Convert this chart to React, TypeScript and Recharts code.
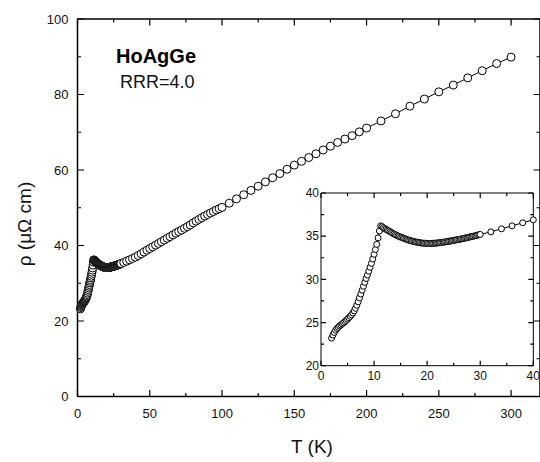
import React from "react";
import { ComposedChart, Line, XAxis, YAxis } from "recharts";

const FONT = "Arial, 'Liberation Sans', Helvetica, sans-serif";

// resistivity of HoAgGe, T in K, rho in µΩ cm
const T_LOW = [
  2, 2.25, 2.5, 2.75, 3, 3.25, 3.5, 3.75, 4, 4.25, 4.5, 4.75, 5, 5.25, 5.5, 5.75, 6, 6.25, 6.5,
  6.75, 7, 7.25, 7.5, 7.75, 8, 8.25, 8.5, 8.75, 9, 9.25, 9.5, 9.75, 10, 10.25, 10.5, 10.75, 11, 11.25,
];
const RHO_LOW = [
  23.2, 23.55, 23.85, 24.1, 24.3, 24.45, 24.6, 24.72, 24.85, 24.97, 25.1, 25.25, 25.4, 25.55, 25.72,
  25.9, 26.1, 26.35, 26.65, 27.0, 27.4, 27.85, 28.3, 28.75, 29.2, 29.65, 30.1, 30.5, 30.95, 31.4,
  31.85, 32.35, 32.9, 33.45, 34.05, 34.8, 35.6, 36.2,
];

const T_PEAK = [
  11.5, 11.75, 12, 12.25, 12.5, 12.75, 13, 13.25, 13.5, 13.75, 14, 14.25, 14.5, 14.75,
  15, 15.25, 15.5, 15.75, 16, 16.25, 16.5, 16.75, 17, 17.25, 17.5, 17.75, 18, 18.25, 18.5, 18.75,
  19, 19.25, 19.5, 19.75, 20, 20.25, 20.5, 20.75, 21, 21.25, 21.5, 21.75, 22, 22.25, 22.5, 22.75,
  23, 23.25, 23.5, 23.75, 24, 24.25, 24.5, 24.75, 25, 25.25, 25.5, 25.75, 26, 26.25, 26.5, 26.75,
  27, 27.25, 27.5, 27.75, 28, 28.25, 28.5, 28.75, 29, 29.25, 29.5, 29.75, 30,
];
const RHO_PEAK = [
  36.1, 35.98, 35.88, 35.79, 35.7, 35.61, 35.52, 35.43, 35.34, 35.26, 35.18, 35.1, 35.03, 34.96,
  34.89, 34.83, 34.77, 34.71, 34.65, 34.6, 34.55, 34.5, 34.46, 34.42, 34.38, 34.34, 34.31, 34.28,
  34.25, 34.23, 34.21, 34.19, 34.18, 34.17, 34.16, 34.16, 34.16, 34.16, 34.17, 34.18, 34.19, 34.2,
  34.22, 34.24, 34.26, 34.28, 34.3, 34.32, 34.35, 34.37, 34.4, 34.42, 34.45, 34.48, 34.51, 34.54,
  34.57, 34.6, 34.63, 34.66, 34.69, 34.72, 34.76, 34.79, 34.82, 34.86, 34.9, 34.93, 34.97, 35.0,
  35.04, 35.08, 35.12, 35.16, 35.2,
];

const T_MID = [
  32, 34, 36, 38, 40, 42, 44, 46, 48, 50, 52, 54, 56, 58, 60, 62, 64, 66, 68, 70, 72, 74, 76, 78,
  80, 82, 84, 86, 88, 90, 92, 94, 96, 98,
];
const RHO_MID = [
  35.5, 35.85, 36.2, 36.55, 36.9, 37.35, 37.8, 38.25, 38.75, 39.2, 39.65, 40.1, 40.55, 41.0, 41.45,
  41.9, 42.35, 42.8, 43.25, 43.7, 44.1, 44.55, 45.0, 45.45, 46.0, 46.45, 46.9, 47.35, 47.8, 48.2,
  48.6, 49.0, 49.4, 49.75,
];

const T_HIGH = [
  100, 105, 110, 115, 120, 125, 130, 135, 140, 145, 150, 155, 160, 165, 170, 175, 180, 185, 190,
  195, 200, 210, 220, 230, 240, 250, 260, 270, 280, 290, 300,
];
const RHO_HIGH = [
  50.1, 51.2, 52.35, 53.45, 54.6, 55.7, 56.85, 57.95, 59.05, 60.2, 61.3, 62.3, 63.3, 64.3, 65.3,
  66.3, 67.3, 68.2, 69.1, 70.1, 71.1, 73.0, 74.9, 76.9, 78.8, 80.7, 82.5, 84.4, 86.3, 88.2, 89.9,
];

const MAIN_X_MAJOR = [0, 50, 100, 150, 200, 250, 300];
const MAIN_X_MINOR = [25, 75, 125, 175, 225, 275];
const MAIN_Y_MAJOR = [0, 20, 40, 60, 80, 100];
const MAIN_Y_MINOR = [10, 30, 50, 70, 90];
const INSET_X_MAJOR = [0, 10, 20, 30, 40];
const INSET_X_MINOR = [5, 15, 25, 35];
const INSET_Y_MAJOR = [20, 25, 30, 35, 40];
const INSET_Y_MINOR = [22.5, 27.5, 32.5, 37.5];

type Pt = { t: number; v: number | null };
type Row = { t: number; rho?: number; frame?: number | null; tick?: number | null };

const zip = (ts: number[], rs: number[]): Row[] => ts.map((t, i) => ({ t, rho: rs[i] }));
const POINTS = [
  ...zip(T_LOW, RHO_LOW),
  ...zip(T_PEAK, RHO_PEAK),
  ...zip(T_MID, RHO_MID),
  ...zip(T_HIGH, RHO_HIGH),
];
const INSET_POINTS = POINTS.filter((p) => p.t <= 40);

// box round the plot, in data units
function frameOf(xd: number[], yd: number[]): Pt[] {
  return [
    { t: xd[0], v: yd[0] },
    { t: xd[1], v: yd[0] },
    { t: xd[1], v: yd[1] },
    { t: xd[0], v: yd[1] },
    { t: xd[0], v: yd[0] },
  ];
}

// inward tick marks on all four sides; a null point breaks the line between them
function ticksOf(xMaj: number[], xMin: number[], yMaj: number[], yMin: number[], xd: number[], yd: number[],
  ux: number, uy: number, majPx: number, minPx: number): Pt[] {
  const out: Pt[] = [];
  const seg = (a: Pt, b: Pt) => out.push(a, b, { t: b.t, v: null });
  for (const x of [...xMaj, ...xMin]) {
    const l = xMaj.includes(x) ? majPx : minPx;
    seg({ t: x, v: yd[0] }, { t: x, v: yd[0] + l * uy });
    seg({ t: x, v: yd[1] }, { t: x, v: yd[1] - l * uy });
  }
  for (const y of [...yMaj, ...yMin]) {
    const l = yMaj.includes(y) ? majPx : minPx;
    seg({ t: xd[0], v: y }, { t: xd[0] + l * ux, v: y });
    seg({ t: xd[1], v: y }, { t: xd[1] - l * ux, v: y });
  }
  return out;
}

// tick labels only; the axis hands us the anchor 1px off the axis line (tickSize=1, tickMargin=0)
function makeLabel(side: "bottom" | "left", majors: number[], fontSize: number, off: number) {
  return (p: any) => {
    const v = p.payload.value;
    if (!majors.includes(v)) return <g />;
    if (side === "bottom") {
      return (
        <text x={p.x} y={p.y - 1 + off} textAnchor="middle" fontSize={fontSize} fontFamily={FONT} fill="#111">
          {v}
        </text>
      );
    }
    return (
      <text x={p.x + 1 - off} y={p.y} dy="0.36em" textAnchor="end" fontSize={fontSize} fontFamily={FONT} fill="#111">
        {v}
      </text>
    );
  };
}

const XTitle = () => (
  <text x={312} y={453} textAnchor="middle" fontSize={19} fontFamily={FONT} fill="#111">
    T (K)
  </text>
);

const YTitle = () => (
  <text x={31} y={224} transform="rotate(-90 31 224)" textAnchor="middle" fontSize={19} fontFamily={FONT} fill="#111">
    ρ (μΩ cm)
  </text>
);

interface FrameProps {
  data: Row[];
  width: number;
  height: number;
  margin: { top: number; right: number; bottom: number; left: number };
  xDomain: [number, number];
  yDomain: [number, number];
  xMajor: number[];
  xMinor: number[];
  yMajor: number[];
  yMinor: number[];
  majorLen: number;
  minorLen: number;
  font: number;
  xOff: number;
  yOff: number;
  xHeight: number;
  yWidth: number;
  frameWidth: number;
  dotR: number;
  titles: boolean;
}

function Framed(p: FrameProps) {
  const plotW = p.width - p.margin.left - p.margin.right - p.yWidth;
  const plotH = p.height - p.margin.top - p.margin.bottom - p.xHeight;
  const ux = (p.xDomain[1] - p.xDomain[0]) / plotW;
  const uy = (p.yDomain[1] - p.yDomain[0]) / plotH;
  // one table for the chart: the measured points, then the frame and tick rows
  const rows: Row[] = [
    ...p.data,
    ...frameOf(p.xDomain, p.yDomain).map((q) => ({ t: q.t, frame: q.v })),
    ...ticksOf(p.xMajor, p.xMinor, p.yMajor, p.yMinor, p.xDomain, p.yDomain, ux, uy, p.majorLen, p.minorLen).map(
      (q) => ({ t: q.t, tick: q.v })
    ),
  ];
  return (
    <ComposedChart width={p.width} height={p.height} data={rows} margin={p.margin}>
      <XAxis
        dataKey="t"
        type="number"
        domain={p.xDomain}
        ticks={[...p.xMajor, ...p.xMinor]}
        interval={0}
        height={p.xHeight}
        tickSize={1}
        tickMargin={0}
        tickLine={false}
        axisLine={false}
        tick={makeLabel("bottom", p.xMajor, p.font, p.xOff)}
        label={p.titles ? <XTitle /> : undefined}
      />
      <YAxis
        type="number"
        domain={p.yDomain}
        ticks={[...p.yMajor, ...p.yMinor]}
        interval={0}
        width={p.yWidth}
        tickSize={1}
        tickMargin={0}
        tickLine={false}
        axisLine={false}
        tick={makeLabel("left", p.yMajor, p.font, p.yOff)}
        label={p.titles ? <YTitle /> : undefined}
      />
      <Line type="linear" dataKey="tick" stroke="#000" strokeWidth={1.2} dot={false} isAnimationActive={false} legendType="none" />
      <Line type="linear" dataKey="frame" stroke="#000" strokeWidth={p.frameWidth} dot={false} isAnimationActive={false} legendType="none" />
      <Line
        type="linear"
        dataKey="rho"
        stroke="#000"
        strokeWidth={1}
        dot={{ r: p.dotR, fill: "#fff", stroke: "#000", strokeWidth: 1 }}
        isAnimationActive={false}
      />
    </ComposedChart>
  );
}

export default function App() {
  return (
    <div style={{ position: "absolute", left: 0, top: 0, width: 540, height: 462, overflow: "hidden", background: "#fff" }}>
      <div style={{ position: "absolute", left: 290, top: 180, zIndex: 2 }}>
        <Framed
          data={INSET_POINTS}
          width={250}
          height={210}
          margin={{ top: 13, right: 6.7, bottom: 0, left: 0 }}
          xDomain={[0, 40]}
          yDomain={[20, 40]}
          xMajor={INSET_X_MAJOR}
          xMinor={INSET_X_MINOR}
          yMajor={INSET_Y_MAJOR}
          yMinor={INSET_Y_MINOR}
          majorLen={5}
          minorLen={3}
          font={12}
          xOff={14.3}
          yOff={2}
          xHeight={24.3}
          yWidth={31}
          frameWidth={1}
          dotR={3}
          titles={false}
        />
      </div>

      <div style={{ position: "absolute", left: 0, top: 0, zIndex: 1 }}>
        <Framed
          data={POINTS}
          width={540}
          height={462}
          margin={{ top: 19, right: 0, bottom: 0, left: 0 }}
          xDomain={[0, 320]}
          yDomain={[0, 100]}
          xMajor={MAIN_X_MAJOR}
          xMinor={MAIN_X_MINOR}
          yMajor={MAIN_Y_MAJOR}
          yMinor={MAIN_Y_MINOR}
          majorLen={6.5}
          minorLen={3.5}
          font={13}
          xOff={21.5}
          yOff={9}
          xHeight={65.5}
          yWidth={77.5}
          frameWidth={1.5}
          dotR={4}
          titles
        />
      </div>

      <div style={{ position: "absolute", left: 116, top: 46.4, zIndex: 3, fontFamily: FONT, fontSize: 20, lineHeight: "20px", fontWeight: "bold", color: "#000", whiteSpace: "nowrap" }}>
        HoAgGe
      </div>
      <div style={{ position: "absolute", left: 120, top: 73.1, zIndex: 3, fontFamily: FONT, fontSize: 18, lineHeight: "18px", color: "#111", whiteSpace: "nowrap" }}>
        RRR=4.0
      </div>
    </div>
  );
}
